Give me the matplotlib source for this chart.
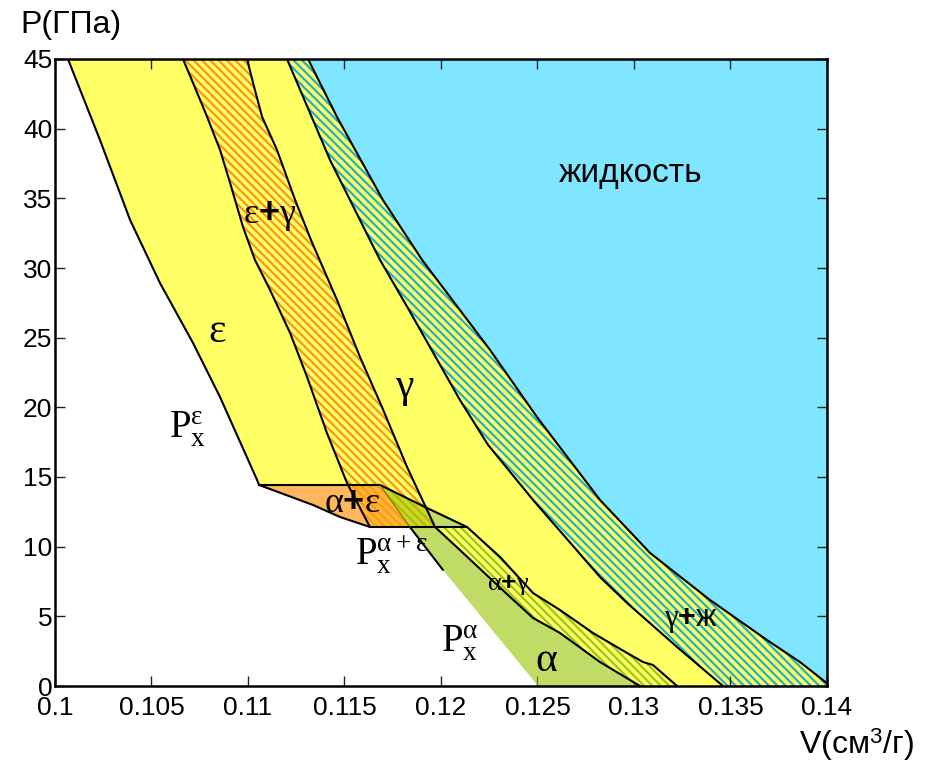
import matplotlib
matplotlib.use("Agg")
import matplotlib.pyplot as plt

plt.rcParams['font.family'] = ['Liberation Sans', 'DejaVu Sans']
plt.rcParams['mathtext.fontset'] = 'custom'
plt.rcParams['mathtext.rm'] = 'Liberation Serif'
plt.rcParams['mathtext.it'] = 'Liberation Serif'
plt.rcParams['mathtext.bf'] = 'Liberation Sans:bold'
plt.rcParams['mathtext.sf'] = 'Liberation Sans'
plt.rcParams['hatch.linewidth'] = 1.6

# ---- boundary curves (V in cm^3/g, P in GPa) ----
eps_left_V = [0.10067, 0.10233, 0.10389, 0.10544, 0.10715, 0.10855, 0.11047, 0.11057]
eps_left_P = [45.0, 39.19, 33.45, 28.92, 24.62, 20.74, 14.79, 14.43]

eg_left_V = [0.10663, 0.10715, 0.10788, 0.10855, 0.10907, 0.10974, 0.11036, 0.11114,
             0.11218, 0.11306, 0.11409, 0.11513, 0.11632]
eg_left_P = [45.0, 43.29, 40.85, 38.48, 36.11, 32.95, 30.58, 28.43, 25.34, 22.18, 18.16, 14.57, 11.41]

eg_right_V = [0.10995, 0.11026, 0.11073, 0.11150, 0.11244, 0.11326, 0.11461, 0.11580,
              0.11694, 0.11824, 0.11969]
eg_right_P = [45.0, 43.29, 40.85, 38.48, 34.89, 32.02, 27.71, 23.62, 20.03, 15.72, 11.41]

ae_low_V = [0.11057, 0.11337, 0.11477, 0.11632]
ae_low_P = [14.43, 12.99, 12.13, 11.41]
ae_top_V = [0.11057, 0.11684]
ae_top_P = [14.43, 14.43]

diag_V = [0.11684, 0.11927, 0.12135]
diag_P = [14.43, 12.78, 11.41]
base_V = [0.11632, 0.12135]
base_P = [11.41, 11.41]

alpha_left_V = [0.11684, 0.11839, 0.12010, 0.12503]
alpha_left_P = [14.43, 11.41, 8.33, 0.0]

alpha_right_V = [0.11969, 0.12098, 0.12358, 0.12477, 0.12617, 0.12824, 0.13031]
alpha_right_P = [11.41, 9.76, 6.39, 4.88, 3.80, 1.72, 0.0]

ag_up_V = [0.12135, 0.12306, 0.12477, 0.12617, 0.12788, 0.12964, 0.13047, 0.13098, 0.13223]
ag_up_P = [11.41, 9.26, 6.67, 5.45, 3.80, 2.37, 1.72, 1.51, 0.0]

gl_low_V = [0.11202, 0.11425, 0.11632, 0.11684, 0.11834, 0.12098, 0.12244, 0.12477,
            0.12824, 0.12964, 0.13223, 0.13461]
gl_low_P = [45.0, 37.75, 32.01, 30.58, 26.99, 20.53, 17.30, 13.35, 7.82, 5.96, 2.80, 0.0]

liq_V = [0.11311, 0.11461, 0.11699, 0.11902, 0.12254, 0.12497, 0.12824, 0.13083,
         0.13394, 0.13689, 0.13860, 0.14]
liq_P = [45.0, 40.84, 34.88, 30.58, 24.12, 19.31, 13.35, 9.55, 6.17, 3.30, 1.72, 0.2]

x_ticks = [0.1, 0.105, 0.11, 0.115, 0.12, 0.125, 0.13, 0.135, 0.14]
x_ticklabels = ['0.1', '0.105', '0.11', '0.115', '0.12', '0.125', '0.13', '0.135', '0.14']
y_ticks = [0, 5, 10, 15, 20, 25, 30, 35, 40, 45]

YELLOW = '#ffff66'
ORANGE = '#ff9418'
CYAN_ST = '#22b0c8'
LIQ = '#80e5ff'
GREEN_A = '#96c500'
GREEN_ST = '#98c818'

fig = plt.figure(figsize=(9.28, 7.66), dpi=100)
ax = fig.add_axes([55/928, 1-686/766, (827-55)/928, (686-59)/766])
ax.set_xlim(0.1, 0.14)
ax.set_ylim(0, 45)

def poly(V, P, **kw):
    ax.fill(V, P, **kw)

# liquid
poly(liq_V + [0.14], liq_P + [45.0], facecolor=LIQ, edgecolor='none', zorder=1)
# gamma + liquid hatched band
poly(gl_low_V + [0.14] + liq_V[::-1], gl_low_P + [0.0] + liq_P[::-1], facecolor=YELLOW,
     edgecolor=CYAN_ST, hatch='\\\\\\\\', linewidth=0, zorder=1)
# big yellow (eps + gamma)
yV = eps_left_V + ae_top_V[1:] + diag_V[1:] + ag_up_V[1:] + gl_low_V[::-1]
yP = eps_left_P + ae_top_P[1:] + diag_P[1:] + ag_up_P[1:] + gl_low_P[::-1]
poly(yV, yP, facecolor=YELLOW, edgecolor='none', zorder=1)
# eps + gamma hatched band
poly(eg_left_V + eg_right_V[::-1], eg_left_P + eg_right_P[::-1], facecolor=YELLOW,
     edgecolor=ORANGE, hatch='\\\\\\\\', linewidth=0, zorder=2)
# alpha + gamma hatched band
poly(alpha_right_V + ag_up_V[::-1] + [base_V[1]], alpha_right_P + ag_up_P[::-1] + [base_P[1]],
     facecolor=YELLOW, edgecolor=GREEN_ST, hatch='\\\\\\\\', linewidth=0, zorder=2)
# alpha + eps (orange, translucent)
aeV = ae_top_V + [alpha_left_V[1]] + ae_low_V[::-1]
aeP = ae_top_P + [alpha_left_P[1]] + ae_low_P[::-1]
poly(aeV, aeP, facecolor='#ff9a20', alpha=0.72, edgecolor='none', zorder=3)
# alpha (green, translucent)
aV = alpha_left_V + alpha_right_V[::-1] + diag_V[::-1]
aP = alpha_left_P + alpha_right_P[::-1] + diag_P[::-1]
poly(aV, aP, facecolor=GREEN_A, alpha=0.6, edgecolor='none', zorder=3)

lw = 1.5
for V, P in [(eps_left_V, eps_left_P), (eg_left_V, eg_left_P), (eg_right_V, eg_right_P),
             (ae_top_V, ae_top_P), (ae_low_V, ae_low_P), (diag_V, diag_P), (base_V, base_P),
             (alpha_right_V, alpha_right_P), (ag_up_V, ag_up_P), (gl_low_V, gl_low_P),
             (liq_V, liq_P), (alpha_left_V[1:3], alpha_left_P[1:3])]:
    ax.plot(V, P, color='black', lw=lw, zorder=4, solid_joinstyle='round', solid_capstyle='round')
ax.plot(alpha_left_V[:2], alpha_left_P[:2], color='#6a6a00', lw=0.7, zorder=4)

ax.set_xticks(x_ticks)
ax.set_xticklabels(x_ticklabels)
ax.set_yticks(y_ticks)
ax.tick_params(direction='in', length=7, width=1, top=True, right=True, labelsize=19,
               colors='#222222', labelcolor='black')
ax.tick_params(axis='x', pad=7)
ax.tick_params(axis='y', pad=2)
for s in ax.spines.values():
    s.set_linewidth(1.8)
    s.set_zorder(6)

fig.text(20/928, 1-25/766, 'P(ГПа)', fontsize=23, ha='left', va='center')
fig.text(914/928, 1-745/766, r'V(см$^{\mathsf{3}}$/г)', fontsize=23, ha='right', va='center')

ax.text(0.11114, 33.8, r'$\varepsilon\mathbf{+}\gamma$', fontsize=26, ha='center', va='center', zorder=5)
ax.text(0.10839, 25.5, r'$\varepsilon$', fontsize=30, ha='center', va='center', zorder=5)
ax.text(0.11813, 21.4, r'$\gamma$', fontsize=30, ha='center', va='center', zorder=5)
ax.text(0.12984, 36.8, 'жидкость', fontsize=24, ha='center', va='center', zorder=5)
ax.text(0.10689, 18.5, r'$\mathrm{P}_{\mathrm{x}}^{\varepsilon}$', fontsize=28, ha='center', va='center', zorder=5)
ax.text(0.11539, 13.2, r'$\alpha\mathbf{+}\varepsilon$', fontsize=26, ha='center', va='center', zorder=5)
ax.text(0.11745, 9.4, r'$\mathrm{P}_{\mathrm{x}}^{\alpha+\varepsilon}$', fontsize=28, ha='center', va='center', zorder=5)
ax.text(0.12347, 7.25, r'$\alpha\mathbf{+}\gamma$', fontsize=19, ha='center', va='center', zorder=5)
ax.text(0.12098, 3.1, r'$\mathrm{P}_{\mathrm{x}}^{\alpha}$', fontsize=28, ha='center', va='center', zorder=5)
ax.text(0.12544, 1.9, r'$\alpha$', fontsize=30, ha='center', va='center', zorder=5)
ax.text(0.13295, 4.74, r'$\gamma\mathbf{+}$ж', fontsize=22, ha='center', va='center', zorder=5)

fig.savefig('out.png', dpi=100)
